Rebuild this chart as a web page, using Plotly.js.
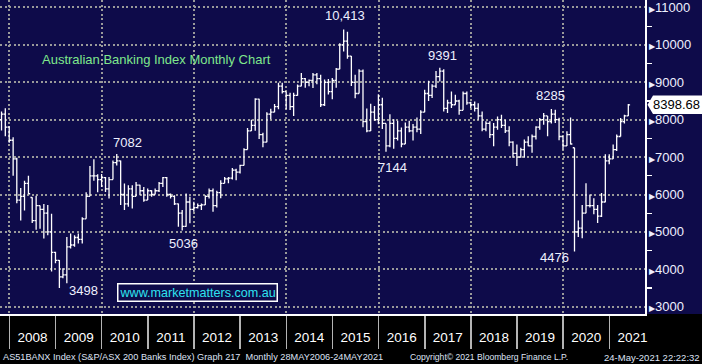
<!DOCTYPE html>
<html><head><meta charset="utf-8">
<script src="https://cdn.plot.ly/plotly-3.0.1.min.js"></script>
<style>html,body{margin:0;padding:0;background:#000;} #chart{width:702px;height:364px;}</style>
</head><body><div id="chart"></div>
<script>
// Monthly periods (Bloomberg plots each monthly bar at month end)
const months = [
 '2007-10','2007-11','2007-12',
 '2008-01','2008-02','2008-03','2008-04','2008-05','2008-06','2008-07','2008-08','2008-09','2008-10','2008-11','2008-12',
 '2009-01','2009-02','2009-03','2009-04','2009-05','2009-06','2009-07','2009-08','2009-09','2009-10','2009-11','2009-12',
 '2010-01','2010-02','2010-03','2010-04','2010-05','2010-06','2010-07','2010-08','2010-09','2010-10','2010-11','2010-12',
 '2011-01','2011-02','2011-03','2011-04','2011-05','2011-06','2011-07','2011-08','2011-09','2011-10','2011-11','2011-12',
 '2012-01','2012-02','2012-03','2012-04','2012-05','2012-06','2012-07','2012-08','2012-09','2012-10','2012-11','2012-12',
 '2013-01','2013-02','2013-03','2013-04','2013-05','2013-06','2013-07','2013-08','2013-09','2013-10','2013-11','2013-12',
 '2014-01','2014-02','2014-03','2014-04','2014-05','2014-06','2014-07','2014-08','2014-09','2014-10','2014-11','2014-12',
 '2015-01','2015-02','2015-03','2015-04','2015-05','2015-06','2015-07','2015-08','2015-09','2015-10','2015-11','2015-12',
 '2016-01','2016-02','2016-03','2016-04','2016-05','2016-06','2016-07','2016-08','2016-09','2016-10','2016-11','2016-12',
 '2017-01','2017-02','2017-03','2017-04','2017-05','2017-06','2017-07','2017-08','2017-09','2017-10','2017-11','2017-12',
 '2018-01','2018-02','2018-03','2018-04','2018-05','2018-06','2018-07','2018-08','2018-09','2018-10','2018-11','2018-12',
 '2019-01','2019-02','2019-03','2019-04','2019-05','2019-06','2019-07','2019-08','2019-09','2019-10','2019-11','2019-12',
 '2020-01','2020-02','2020-03','2020-04','2020-05','2020-06','2020-07','2020-08','2020-09','2020-10','2020-11','2020-12',
 '2021-01','2021-02','2021-03','2021-04','2021-05'
];
const openV = [
 8000,8150,7800,
 7450,6950,5850,5950,6300,5920,5300,5700,5600,5500,5000,4450,
 4240,3800,3850,4600,4650,4850,4800,5350,5950,6500,6500,6400,
 6450,6150,6400,6850,6900,6000,5750,6150,5950,6250,6100,5850,
 6100,6000,6100,6300,6450,6000,5950,5750,5500,5150,5800,5600,
 5650,5700,5720,5950,6100,5700,6050,6300,6420,6440,6650,6600,
 6780,7200,7700,7850,8550,7600,7400,8150,8200,8350,8900,8750,
 8650,8350,8650,8900,9100,9000,9050,9200,9100,8400,9000,8750,
 9050,9350,10000,10100,9700,9000,8700,9300,7950,7700,8200,8000,
 8400,7900,7300,7900,7500,7700,7350,7800,7700,7800,7750,8200,
 8700,8650,8900,9150,9300,8300,8450,8400,8500,8250,8700,8450,
 8400,8300,8100,7750,7900,7600,7800,8000,7850,7700,7400,7100,
 7000,7200,7400,7300,7550,7800,8000,8100,7950,8150,8000,7550,
 7300,7600,7250,5000,5100,5500,5700,5700,5600,5420,5800,6900,
 6950,7200,7550,7950,8100
];
const highV = [
 8221,8309,7823,
 7532,6985,6172,6367,6499,5925,5969,5704,5748,5720,5484,4468,
 4247,4030,4865,4954,4910,4954,5395,6057,6764,6940,6543,6550,
 6469,6469,6911,7082,6911,6292,6247,6247,6336,6260,6203,6159,
 6115,6159,6336,6469,6469,6026,5982,5760,5584,6026,5938,5805,
 5760,5760,5982,6159,6159,6100,6380,6470,6470,6710,6690,6795,
 7236,7780,8000,8570,8560,7650,8200,8290,8420,8985,8985,8750,
 8720,8720,8940,9250,9117,9073,9250,9250,9200,9073,9091,9117,
 9382,10044,10413,10350,9700,9200,9350,9340,8300,8429,8367,8680,
 8588,7900,8146,8014,7970,7794,7926,7970,7882,8058,8250,8800,
 9040,8950,9300,9391,9350,8531,8752,8664,8531,8752,8752,8480,
 8487,8442,8221,7956,7956,7911,8088,8133,8000,7823,7425,7336,
 7248,7469,7557,7602,7823,8044,8177,8100,8285,8265,8050,7550,
 7691,8061,7250,5308,5720,6300,6000,5900,5720,6040,7073,7073,
 7338,7603,8044,8132,8420
];
const lowV = [
 7709,7560,7382,
 6499,5766,5307,5572,6013,5236,5060,5086,4821,4910,3938,4159,
 3498,3760,3629,4556,4601,4689,4689,5350,5950,6367,6057,6200,
 6070,5893,6400,6778,5716,5584,5672,5628,5950,5982,5805,5850,
 5938,6000,6070,6203,5938,5893,5716,5141,5036,5141,5230,5539,
 5628,5584,5720,5893,5539,5650,5900,6300,6300,6400,6380,6560,
 6777,7200,7700,7704,7484,7263,7400,8013,8200,8280,8700,8278,
 8261,8102,8640,8896,8852,8896,8850,8950,8341,8367,8676,8544,
 8853,9350,9823,9630,8900,8570,8700,7800,7661,7700,7970,7880,
 7749,7144,7264,7220,7441,7264,7350,7661,7441,7661,7617,8200,
 8500,8580,8850,9020,8220,8177,8310,8400,8133,8250,8398,8310,
 8221,8000,7690,7690,7513,7292,7734,7779,7646,7292,6982,6761,
 6982,6982,7292,7115,7469,7734,7867,7557,7900,7911,7450,7205,
 7294,7338,4476,4866,4830,5500,5650,5470,5240,5400,5793,6808,
 6950,7161,7550,7900,8100
];
const closeV = [
 8150,7800,7450,
 6950,5850,5950,6300,6020,5300,5700,5600,5500,5000,4450,4240,
 3800,3850,4600,4650,4850,4800,5350,5950,6500,6500,6400,6450,
 6150,6400,6850,6900,6000,5750,6150,5950,6250,6100,5850,6100,
 6000,6100,6300,6450,6000,5950,5750,5500,5150,5800,5600,5650,
 5700,5720,5950,6100,5700,6050,6300,6420,6440,6650,6600,6780,
 7200,7700,7850,8550,7600,7400,8150,8200,8350,8900,8750,8650,
 8350,8650,8900,9100,9000,9050,9200,9100,8400,9000,8750,9050,
 9350,10000,10100,9700,9000,8700,9300,7950,7700,8200,8000,8400,
 7900,7300,7900,7500,7700,7350,7800,7700,7800,7750,8200,8700,
 8650,8900,9150,9300,8300,8450,8400,8500,8250,8700,8450,8400,
 8300,8100,7750,7900,7600,7800,8000,7850,7700,7400,7100,7000,
 7200,7400,7300,7550,7800,8000,8100,7950,8150,8000,7550,7300,
 7600,7350,5000,5100,5500,5700,5700,5600,5420,5800,6900,6950,
 7200,7550,7950,8100,8398.68
];
const yTickVals = [3000,4000,5000,6000,7000,8000,9000,10000,11000];
const levelLabels = ['10,413','7082','9391','8285','7144','5036','3498','4476'];
const chartTitle = 'Australian Banking Index Monthly Chart';
const watermark = 'www.marketmatters.com.au';
const footerLeft = 'AS51BANX Index (S&amp;P/ASX 200 Banks Index) Graph 217  Monthly 28MAY2006-24MAY2021';
const footerMid = 'Copyright\u00A9 2021 Bloomberg Finance L.P.';
const footerRight = '24-May-2021 22:22:32';

function monthEnd(s){const p=s.split('-').map(Number);const d=new Date(Date.UTC(p[0],p[1],0)).getUTCDate();return s+'-'+String(d).padStart(2,'0');}
const dates = months.map(monthEnd);
const lastClose = closeV[closeV.length-1];

const W = 645, H = 314; // plot area in px
const px = x => x / W;
const py = y => 1 - y / H;
const NAVY = '#0e0b4a';
const XR = ['2007-10-19','2021-10-10'];
const FONT = 'Liberation Sans, Arial, sans-serif';

const levelPos = [[344.5,15.5],[127.5,142],[442,56],[550,95.5],[392,167],[183.5,243],[83.5,290],[554,257]];

const annotations = levelLabels.map((t,i)=>({
  text:t, xref:'paper', yref:'paper', x:px(levelPos[i][0]), y:py(levelPos[i][1]),
  xanchor:'center', yanchor:'middle', showarrow:false,
  font:{family:FONT, size:13, color:'#eef0ff'}
}));
annotations.push({text:chartTitle, xref:'paper', yref:'paper', x:px(40), y:py(60), xanchor:'left', yanchor:'middle', showarrow:false,
  font:{family:FONT, size:13, color:'#7fe78c'}});
annotations.push({text:watermark, xref:'paper', yref:'paper', x:px(197), y:py(292), xanchor:'center', yanchor:'middle', showarrow:false,
  bordercolor:'#ffffff', borderwidth:1.5, borderpad:1, bgcolor:NAVY,
  font:{family:FONT, size:12.6, color:'#2fe3f0'}});
annotations.push({text:footerLeft, xref:'paper', yref:'paper', x:px(1), y:py(357), xanchor:'left', yanchor:'middle', showarrow:false,
  font:{family:FONT, size:9.2, color:'#dfe3f5'}});
annotations.push({text:footerMid, xref:'paper', yref:'paper', x:px(408), y:py(357), xanchor:'left', yanchor:'middle', showarrow:false,
  font:{family:FONT, size:8.6, color:'#dfe3f5'}});
annotations.push({text:footerRight, xref:'paper', yref:'paper', x:px(602), y:py(357), xanchor:'left', yanchor:'middle', showarrow:false,
  font:{family:FONT, size:9.5, color:'#dfe3f5'}});
// last price tag
annotations.push({text:lastClose.toFixed(2), xref:'paper', yref:'y', x:px(651), y:lastClose, xanchor:'left', yanchor:'middle', showarrow:false,
  font:{family:FONT, size:13, color:'#000000'}});

const half = 245;
const shapes = [
  {type:'rect', xref:'paper', yref:'paper', x0:0, x1:px(702), y0:py(364), y1:0, fillcolor:'#000000', line:{width:0}, layer:'below'},
  {type:'path', xref:'paper', yref:'y',
   path:`M ${px(647.5)} ${lastClose} L ${px(653)} ${lastClose+half} L ${px(702)} ${lastClose+half} L ${px(702)} ${lastClose-half} L ${px(653)} ${lastClose-half} Z`,
   fillcolor:'#ffffff', line:{width:0}, layer:'above'}
];

const traces = [
  {type:'ohlc', x:dates, open:openV, high:highV, low:lowV, close:closeV,
   increasing:{line:{color:'#ffffff', width:1.3}}, decreasing:{line:{color:'#ffffff', width:1.3}},
   tickwidth:0.5, hoverinfo:'skip', showlegend:false},
  {type:'scatter', x:[dates[0]], y:[null], xaxis:'x2', yaxis:'y', mode:'markers', hoverinfo:'skip', showlegend:false}
];

const tri = '<span style="font-size:8px">\u25B6</span>';
const layout = {
  width:702, height:364,
  margin:{l:0, r:57, t:0, b:50, pad:0},
  paper_bgcolor:NAVY, plot_bgcolor:NAVY,
  showlegend:false,
  xaxis:{type:'date', range:XR, rangeslider:{visible:false},
    tick0:'2008-01-01', dtick:'M24', showgrid:true, gridcolor:'#9a9a9a', gridwidth:2, griddash:'2px,2.5px',
    ticks:'outside', ticklen:33, tickwidth:1.5, tickcolor:'#b4b4b4', showticklabels:false,
    minor:{tick0:'2008-01-01', dtick:'M12', ticks:'outside', ticklen:33, tickwidth:1.5, tickcolor:'#b4b4b4', showgrid:false},
    showline:true, linecolor:'#ffffff', linewidth:1.5, zeroline:false, fixedrange:true},
  xaxis2:{type:'date', range:XR, overlaying:'x', anchor:'y', side:'bottom',
    tick0:'2008-01-01', dtick:'M12', ticklabelmode:'period', tickformat:'%Y',
    ticks:'', showgrid:false, showline:false, zeroline:false, ticklabelstandoff:13,
    tickfont:{family:FONT, size:13.5, color:'#ffffff'}},
  yaxis:{side:'right', range:[2805,11200], tickmode:'array', tickvals:yTickVals,
    ticktext:yTickVals.map(v=>tri+v),
    showgrid:true, gridcolor:'#9a9a9a', gridwidth:2, griddash:'2px,2.5px',
    ticks:'', ticklabelstandoff:0,
    minor:{tickmode:'linear', tick0:500, dtick:1000, ticks:'outside', ticklen:5, tickwidth:1.2, tickcolor:'#ffffff', showgrid:false},
    showline:true, linecolor:'#ffffff', linewidth:1.5, zeroline:false,
    tickfont:{family:FONT, size:13, color:'#eef0ff'}},
  annotations:annotations,
  shapes:shapes
};
Plotly.newPlot('chart', traces, layout, {staticPlot:true, displayModeBar:false});
</script></body></html>
